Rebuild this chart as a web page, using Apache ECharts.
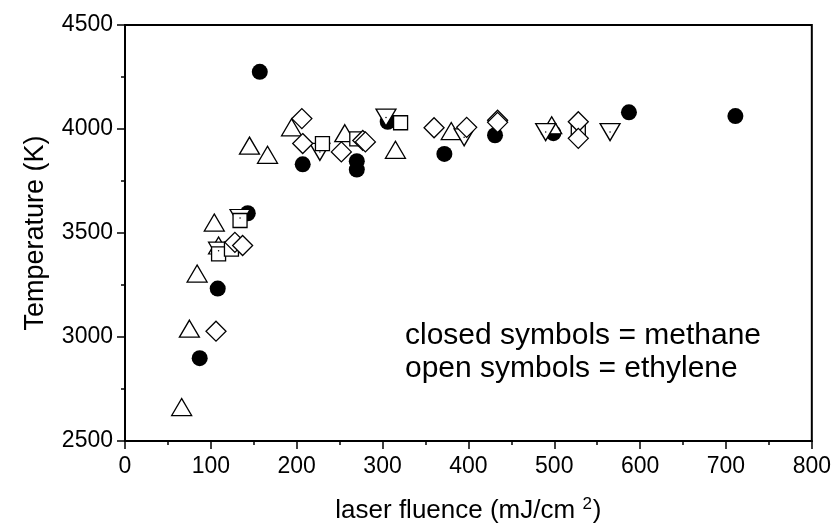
<!DOCTYPE html>
<html>
<head>
<meta charset="utf-8">
<script src="https://cdn.jsdelivr.net/npm/echarts@6/dist/echarts.min.js"></script>
<style>html,body{margin:0;padding:0;background:#fff}#c{width:834px;height:531px}</style>
</head>
<body>
<div id="c"></div>
<script>
// methane (closed circles)
const methaneX = [157, 143, 108, 87, 207, 270, 270, 306, 372, 431, 499, 587, 711];
const methaneY = [4275, 3595, 3233, 2898, 3830, 3845, 3805, 4035, 3880, 3970, 3980, 4080, 4062];
// ethylene, open triangles up
const triUpX = [66, 75, 84, 104, 109, 145, 166, 194, 256, 315, 380, 497];
const triUpY = [2663, 3040, 3305, 3550, 3440, 3920, 3876, 4008, 3980, 3900, 3990, 4018];
// ethylene, open triangles down
const triDownX = [109, 134, 227, 304, 395, 490, 565];
const triDownY = [3415, 3572, 3890, 4055, 3960, 3985, 3985];
// ethylene, open squares
const squareX = [134, 109, 124, 230, 270, 321, 528];
const squareY = [3560, 3400, 3422, 3930, 3953, 4030, 3985];
// ethylene, open diamonds
const diamondX = [106, 128, 137, 206, 207, 252, 277, 280, 360, 398, 434, 434, 528, 528];
const diamondY = [3028, 3455, 3440, 4050, 3930, 3890, 3945, 3938, 4006, 4008, 4042, 4032, 4035, 3955];
// axis ticks
const xTicks = [0, 100, 200, 300, 400, 500, 600, 700, 800];
const yTicks = [2500, 3000, 3500, 4000, 4500];

const zip = (a, b) => a.map((v, i) => [v, b[i]]);
const font = '"Liberation Sans", Arial, sans-serif';
const openStyle = {color: '#fff', borderColor: '#000', borderWidth: 1.3, opacity: 1};

const chart = echarts.init(document.getElementById('c'));
chart.setOption({
  animation: false,
  backgroundColor: '#fff',
  grid: {left: 125, right: 20, top: 25, bottom: 90, show: true, borderColor: '#000', borderWidth: 2, backgroundColor: 'transparent'},
  xAxis: {
    type: 'value', min: xTicks[0], max: xTicks[xTicks.length - 1], interval: 100,
    name: '{a|laser fluence (mJ/cm }{s|2}{a|)}',
    nameLocation: 'middle', nameGap: 55,
    nameTextStyle: {rich: {a: {fontSize: 26, fontFamily: font, color: '#000'}, s: {fontSize: 17, fontFamily: font, color: '#000', verticalAlign: 'top', padding: [0, 1, 12, 0]}}},
    axisLine: {lineStyle: {color: '#000', width: 2}},
    axisTick: {length: 8, lineStyle: {color: '#000', width: 1.5}},
    minorTick: {show: true, splitNumber: 2, length: 4, lineStyle: {color: '#000', width: 1.5}},
    splitLine: {show: false},
    axisLabel: {fontSize: 23, fontFamily: font, color: '#000', margin: 14, formatter: v => String(v)}
  },
  yAxis: {
    type: 'value', min: yTicks[0], max: yTicks[yTicks.length - 1], interval: 500,
    name: 'Temperature (K)', nameLocation: 'middle', nameGap: 76,
    nameTextStyle: {fontSize: 27, fontFamily: font, color: '#000'},
    axisLine: {lineStyle: {color: '#000', width: 2}},
    axisTick: {length: 8, lineStyle: {color: '#000', width: 1.5}},
    minorTick: {show: true, splitNumber: 2, length: 4, lineStyle: {color: '#000', width: 1.5}},
    splitLine: {show: false},
    axisLabel: {fontSize: 23, fontFamily: font, color: '#000', margin: 12, formatter: v => String(v)}
  },
  graphic: [{
    type: 'text', left: 405, top: 319,
    style: {text: 'closed symbols = methane\nopen symbols = ethylene', font: '30px ' + font, fill: '#000', lineHeight: 33}
  }],
  series: [
    {type: 'scatter', name: 'methane', symbol: 'circle', symbolSize: 16, data: zip(methaneX, methaneY), itemStyle: {color: '#000', opacity: 1}, z: 2},
    {type: 'scatter', name: 'triangle up', symbol: 'triangle', symbolSize: [20, 17], data: zip(triUpX, triUpY), itemStyle: openStyle, z: 3},
    {type: 'scatter', name: 'triangle down', symbol: 'triangle', symbolRotate: 180, symbolSize: [20, 17], data: zip(triDownX, triDownY), itemStyle: openStyle, z: 3},
    {type: 'scatter', name: 'triangle down dot', symbol: 'circle', symbolSize: 1.5, data: zip(triDownX, triDownY), itemStyle: {color: '#000', opacity: 1}, z: 4},
    {type: 'scatter', name: 'square', symbol: 'rect', symbolSize: 14, data: zip(squareX, squareY), itemStyle: openStyle, z: 3},
    {type: 'scatter', name: 'diamond', symbol: 'diamond', symbolSize: [20, 20], data: zip(diamondX, diamondY), itemStyle: openStyle, z: 3}
  ]
});
</script>
</body>
</html>
